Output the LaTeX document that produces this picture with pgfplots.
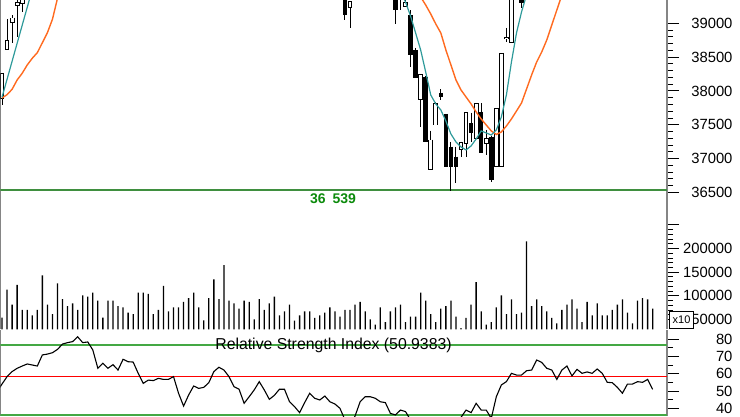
\documentclass[border=0pt]{standalone}
\usepackage{pgfplots}
\pgfplotsset{compat=1.18}
\usepackage{pgfplotstable}
\usepackage{fontspec}
\setmainfont{Liberation Sans}

\definecolor{ma1}{HTML}{2E9A9A}
\definecolor{ma2}{HTML}{FF6A1F}
\definecolor{lvl}{HTML}{3F8F3F}
\definecolor{rsig}{HTML}{44A844}
\definecolor{axgray}{HTML}{858585}
\definecolor{lblgreen}{HTML}{0B8A0B}

\pgfplotsset{
 panel/.style={scale only axis, width=666.5pt, xmin=0.7, xmax=132.84, anchor=south west,
   axis x line=none, axis y line=box, ytick pos=right,
   y axis line style={axgray, line width=1.2pt},
   tick align=outside, major tick length=12pt, minor tick length=6pt,
   every tick/.style={black, line width=0.9pt},
   yticklabel style={font=\fontsize{14.8}{16}\selectfont, anchor=east, xshift=57pt},
   scaled y ticks=false,
   /pgf/number format/.cd, 1000 sep={}, assume math mode=true},
 wick/.style={draw=none, mark=none, error bars/.cd, y dir=minus, y explicit, error mark=none,
   error bar style={draw=black, line width=1pt}},
 body/.style={draw=none, mark=none, error bars/.cd, y dir=minus, y explicit, error mark=none,
   error bar style={draw=#1}},
}

% i open high low close
\pgfplotstableread{
i o h l c
1 37891 38261 37792 38261
2 38616 39060 38606 38743
3 39009 39123 38713 39079
4 39267 39380 38802 39305
5 39296 39480 39172 39420
70 39237 39330 38926 39320
81 39246 39360 39240 39305
84 37876 38236 37471 38236
86 36831 37412 36831 37274
87 37496 37840 37496 37807
92 37127 37249 37027 37234
93 37226 37678 37027 37678
95 37299 37807 37299 37807
97 37226 37422 37053 37299
99 36880 37743 36880 37743
100 36880 38557 36880 38557
101 38775 38931 38724 38790
102 38713 39480 38713 39420
}\upc

\pgfplotstableread{
i o h l c
69 39420 39500 39049 39123
79 39450 39500 38990 39197
80 39480 39520 39197 39380
82 39123 39197 38359 38532
83 38605 38635 38187 38191
85 38206 38220 37245 37245
88 37970 38024 37866 37915
89 37659 37659 36880 36880
90 37175 37245 36520 36880
91 37027 37175 36643 36880
94 37521 37678 37249 37373
96 37693 37817 37078 37078
98 37323 37340 36658 36683
104 39450 39500 39222 39305
}\dnc

\pgfplotstableread{
i v
1 53900
2 113000
3 81300
4 122900
5 70100
6 70100
7 58800
8 70100
9 143300
10 81300
11 61600
12 126400
13 93300
14 78500
15 84100
16 70100
17 101000
18 98200
19 106700
20 89800
21 53900
22 89800
23 89800
24 78500
25 75700
26 64400
27 61600
28 106700
29 106700
30 103900
31 61600
32 70100
33 120800
34 67300
35 75700
36 75700
37 87000
38 95400
39 106700
40 75700
41 48200
42 95400
43 134800
44 93300
45 165100
46 89800
47 84100
48 72900
49 89800
50 87000
51 50400
52 93300
53 70100
54 84100
55 98200
56 58800
57 67300
58 81300
59 47500
60 58800
61 67300
62 67300
63 53200
64 58800
65 64400
66 75700
67 67300
68 56000
69 70100
70 70100
71 81300
72 87000
73 67300
74 50400
75 39100
76 75700
77 44700
78 67300
79 75700
80 81300
81 44700
82 56000
83 56000
84 106700
85 89800
86 61600
87 44700
88 72900
89 78500
90 89800
91 56000
92 32000
93 53200
94 81300
95 129200
96 67300
97 39100
98 44700
99 75700
100 101000
101 61600
102 92600
103 61600
104 64400
105 215100
106 78500
107 92600
108 78500
109 67300
110 53200
111 41900
112 70100
113 81300
114 92600
115 72900
116 44700
117 87000
118 58800
119 84100
120 58800
121 58800
122 70100
123 81300
124 92600
125 64400
126 41900
127 89800
128 95400
129 92600
130 72900
}\voltab

\pgfplotstableread{
i r
0 49.5
1 54.0
2 58.3
3 61.2
4 63.1
5 64.4
6 65.6
7 65.0
8 64.4
9 70.8
10 71.3
11 72.1
12 74.0
13 77.1
14 77.9
15 78.5
16 81.3
17 77.9
18 78.3
19 73.7
20 63.1
21 66.0
22 63.1
23 65.2
24 62.1
25 68.3
26 66.9
27 66.7
28 60.2
29 54.4
30 56.3
31 56.0
32 57.3
33 56.7
34 56.7
35 58.3
36 48.7
37 41.3
38 47.7
39 52.9
40 51.5
41 52.1
42 54.8
43 61.2
44 63.7
45 62.1
46 58.3
47 52.5
48 51.0
49 42.9
50 46.7
51 50.6
52 55.4
53 50.6
54 45.2
55 47.5
56 51.0
57 51.0
58 43.8
59 41.0
60 37.5
61 43.3
62 48.7
63 45.8
64 44.8
65 47.1
66 43.8
67 42.5
68 40.0
69 33.3
70 30.4
71 35.6
72 43.8
73 46.7
74 46.7
75 45.8
76 43.8
77 43.3
78 37.1
79 36.2
80 39.0
81 38.1
82 33.3
83 30.4
84 29.4
85 30.4
86 31.0
87 29.4
88 30.4
89 31.0
90 32.0
91 33.0
92 34.8
93 39.0
94 37.5
95 42.9
96 39.0
97 39.0
98 34.2
99 46.7
100 53.5
101 55.4
102 60.2
103 59.2
104 59.2
105 61.7
106 62.1
107 67.9
108 66.5
109 63.1
110 62.1
111 56.7
112 62.1
113 64.4
114 58.7
115 62.5
116 60.2
117 61.0
118 60.2
119 62.7
120 60.2
121 55.0
122 54.8
123 52.1
124 48.7
125 54.0
126 54.0
127 55.4
128 55.0
129 56.7
130 50.9383
}\rsitab

\begin{document}
\begin{tikzpicture}
\path[use as bounding box] (0,0) rectangle (740pt,416pt);

% ---------------- price panel ----------------
\begin{axis}[panel, at={(0.5pt,217pt)}, height=199pt, ymin=36401, ymax=39345,
  ytick={36500,37000,37500,38000,38500,39000},
  yticklabels={36500,37000,37500,38000,38500,39000}, minor y tick num=4]
\addplot[lvl, line width=1.8pt] coordinates {(0.7,36539) (132.84,36539)};
% wicks
\addplot[wick] table[x=i, y=h, y error expr=\thisrow{h}-\thisrow{l}] {\upc};
\addplot[wick] table[x=i, y=h, y error expr=\thisrow{h}-\thisrow{l}] {\dnc};
% bodies: falling candles black, rising candles hollow
\addplot[body={black, line width=4.6pt}] table[x=i, y=o, y error expr=\thisrow{o}-\thisrow{c}] {\dnc};
\addplot[body={black, line width=4.8pt}] table[x=i, y expr=\thisrow{c}+7, y error expr=\thisrow{c}-\thisrow{o}+14] {\upc};
\addplot[body={white, line width=2.8pt}] table[x=i, y expr=\thisrow{c}-7, y error expr=\thisrow{c}-\thisrow{o}-14] {\upc};
% moving averages
\addplot[ma2, line width=1.4pt] coordinates {(1,37896) (2,37944) (3,38024) (4,38162) (5,38261) (6,38384) (7,38483) (8,38566) (9,38713) (10,38861) (11,39060) (12,39370) (13,39750)};
\addplot[ma2, line width=1.4pt] coordinates {(83,39600) (84,39390) (85,39271) (86,39138) (87,38990) (88,38857) (89,38606) (90,38384) (91,38162) (92,38014) (93,37910) (94,37807) (95,37689) (96,37585) (97,37496) (98,37408) (99,37356) (100,37393) (101,37481) (102,37585) (103,37703) (104,37822) (105,38029) (106,38236) (107,38428) (108,38576) (109,38753) (110,38975) (111,39197) (112,39420)};
\addplot[ma1, line width=1.2pt] coordinates {(1,37907) (2,38172) (3,38439) (4,38705) (5,38971) (6,39237) (7,39502)};
\addplot[ma1, line width=1.2pt] coordinates {(80,39480) (81,39315) (82,39108) (83,38857) (84,38606) (85,38280) (86,37940) (87,37807) (88,37718) (89,37555) (90,37363) (91,37245) (92,37171) (93,37127) (94,37186) (95,37289) (96,37408) (97,37378) (98,37348) (99,37422) (100,37615) (101,37940) (102,38428) (103,38857) (104,39168) (105,39420)};
\end{axis}

% ---------------- volume panel ----------------
\begin{axis}[panel, at={(0.5pt,86.7pt)}, height=130.3pt, ymin=29300, ymax=304550,
  axis x line*=bottom, x axis line style={black, line width=1pt}, xtick=\empty,
  ytick={50000,100000,150000,200000,250000},
  yticklabels={50000,100000,150000,200000,{}}, minor y tick num=4]
\addplot[ybar, bar width=1.3pt, fill=black, draw=none, bar shift=0pt] table[x=i, y=v] {\voltab};
\end{axis}

% ---------------- RSI panel ----------------
\begin{axis}[panel, at={(0.5pt,0pt)}, height=86pt, ymin=35.57, ymax=85.2,
  ytick={40,50,60,70,80}, minor y tick num=1]
\addplot[rsig, line width=1.6pt] coordinates {(0.7,76.5) (132.84,76.5)};
\addplot[rsig, line width=1.8pt] coordinates {(0.7,36.1) (132.84,36.1)};
\addplot[red, line width=1.3pt] coordinates {(0.7,58.3) (132.84,58.3)};
\addplot[black, line width=1.1pt] table[x=i, y=r] {\rsitab};
\end{axis}

\node[font=\fontsize{14}{16}\selectfont\bfseries, text=lblgreen, anchor=base] at (333pt,212pt) {36\hspace{7pt}539};
\node[font=\fontsize{15.8}{18}\selectfont, anchor=base] at (333.5pt,67pt) {Relative Strength Index (50.9383)};
\node[draw=black, fill=white, line width=0.8pt, inner sep=0pt, minimum width=23.5pt, minimum height=16.5pt, font=\fontsize{11}{12}\selectfont] at (681.5pt,96pt) {x10};
\end{tikzpicture}
\end{document}
